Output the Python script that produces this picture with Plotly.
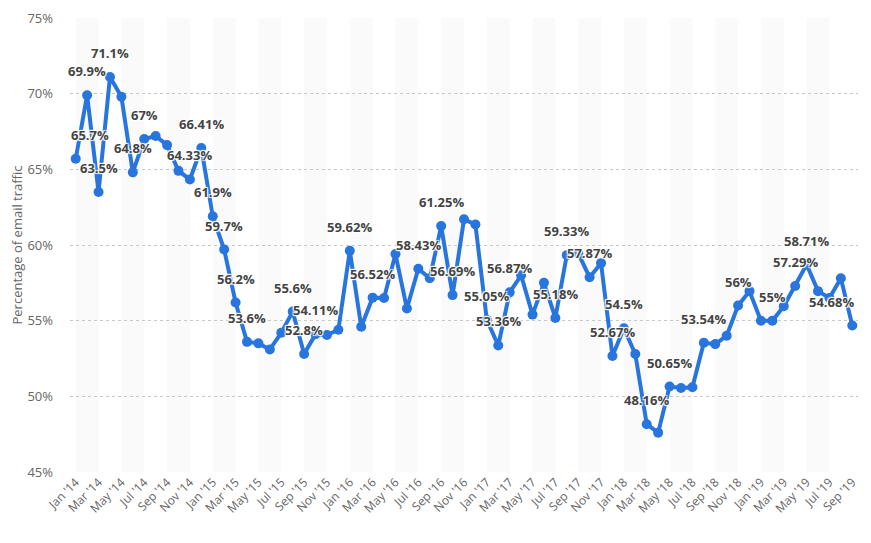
import plotly.graph_objects as go

# ------------------------------------------------------------------ #
#                               DADOS

meses = [f"{m} '{a}" for a in range(14, 20)
         for m in ["Jan", "Feb", "Mar", "Apr", "May", "Jun",
                   "Jul", "Aug", "Sep", "Oct", "Nov", "Dec"]][:69]

spam = [
    65.7, 69.9, 63.5, 71.1, 69.8, 64.8, 67.0, 67.2, 66.6, 64.9, 64.33, 66.41,   # 2014
    61.9, 59.7, 56.2, 53.6, 53.5, 53.1, 54.2, 55.6, 52.8, 54.11, 54.05, 54.4,   # 2015
    59.62, 54.6, 56.52, 56.5, 59.4, 55.8, 58.43, 57.8, 61.25, 56.69, 61.7, 61.35,  # 2016
    55.05, 53.36, 56.87, 58.0, 55.4, 57.5, 55.18, 59.33, 59.45, 57.87, 58.8, 52.67,  # 2017
    54.5, 52.8, 48.16, 47.6, 50.65, 50.55, 50.6, 53.54, 53.45, 54.0, 56.0, 56.95,  # 2018
    55.0, 55.0, 55.95, 57.29, 58.71, 56.95, 56.5, 57.8, 54.68,                  # 2019
]

# meses que mostram o valor em cima do ponto
meses_rotulo = [
    "Jan '14", "Feb '14", "Mar '14", "Apr '14", "Jun '14", "Jul '14", "Nov '14", "Dec '14",
    "Jan '15", "Feb '15", "Mar '15", "Apr '15", "Aug '15", "Sep '15", "Oct '15",
    "Jan '16", "Mar '16", "Jul '16", "Sep '16", "Oct '16",
    "Jan '17", "Feb '17", "Mar '17", "Jul '17", "Aug '17", "Oct '17", "Dec '17",
    "Jan '18", "Mar '18", "May '18", "Aug '18", "Nov '18",
    "Feb '19", "Apr '19", "May '19", "Sep '19",
]

y_ticks = [45, 50, 55, 60, 65, 70, 75]

azul = "#2876dd"

# ------------------------------------------------------------------ #
#                               FIGURA

fig = go.Figure()

fig.add_trace(go.Scatter(
    x=meses, y=spam, mode="lines+markers",
    line=dict(color=azul, width=4),
    marker=dict(color=azul, size=10),
    showlegend=False,
    cliponaxis=False,
))

# faixas verticais cinza (a cada 4 meses, largura de 2 meses)
for i in range(0, len(meses) - 1, 4):
    fig.add_shape(type="rect", xref="x", yref="paper",
                  x0=i, x1=i + 2, y0=0, y1=1,
                  fillcolor="#fafafa", line_width=0, layer="below")

# rótulos de dados
sombra = "1px 1px 1px #fff, -1px -1px 1px #fff, 1px -1px 1px #fff, -1px 1px 1px #fff"
for mes, valor in zip(meses, spam):
    if mes not in meses_rotulo:
        continue
    i = meses.index(mes)
    xshift = 0
    if i == 0:
        xshift = 14
    elif i == len(meses) - 1:
        xshift = -21
    fig.add_annotation(
        x=mes, y=valor, text=f"{valor:g}%", showarrow=False,
        yshift=24, xshift=xshift,
        font=dict(family="Open Sans", size=13, color="#444", weight="bold",
                  shadow=sombra),
    )

# a página tem margem de 8px no body, então a figura fica um pouco menor
fig.update_layout(
    width=863, height=535,
    margin=dict(l=62, r=13, t=10, b=71),
    paper_bgcolor="white",
    plot_bgcolor="white",
    font=dict(family="Open Sans", color="#666"),
    xaxis=dict(
        type="category",
        range=[-0.5, len(meses) - 0.5],
        tickmode="array",
        tickvals=meses[::2],
        ticktext=meses[::2],
        tickangle=-45,
        tickfont=dict(size=12, color="#666"),
        showgrid=False,
        showline=False,
        zeroline=False,
        automargin=False,
    ),
    yaxis=dict(
        range=[45, 75],
        tickmode="array",
        tickvals=y_ticks,
        ticktext=[f"{v}%" for v in y_ticks],
        tickfont=dict(size=13, color="#666"),
        showgrid=True,
        gridcolor="#c8c8c8",
        griddash="dot",
        gridwidth=1,
        zeroline=False,
        ticklen=0,
        ticklabelstandoff=16,
        automargin=False,
        title=dict(text="Percentage of email traffic",
                   font=dict(size=13, color="#666"), standoff=4),
    ),
)

fig.write_html("out.html")
